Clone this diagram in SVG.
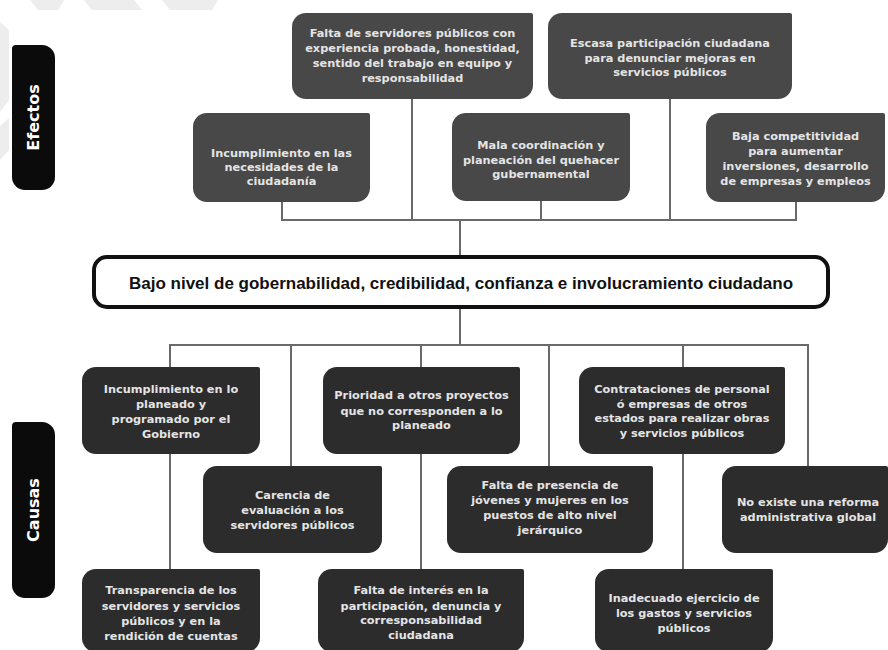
<svg xmlns="http://www.w3.org/2000/svg" width="888" height="650" viewBox="0 0 888 650">
<style>
.wm{fill:#ededed}
.pill{fill:#0b0b0b}
.pl{font-family:"DejaVu Sans","Liberation Sans",sans-serif;font-weight:bold;font-size:16px;fill:#ffffff;text-anchor:middle}
.eff{fill:#484848}
.cau{fill:#2c2c2c}
.t{font-family:"DejaVu Sans","Liberation Sans",sans-serif;font-weight:bold;font-size:11.3px;fill:#e4e4e4;text-anchor:middle}
.con{fill:none;stroke:#6a6a6a;stroke-width:2}
.main{fill:#ffffff;stroke:#111111;stroke-width:4}
.mt{font-family:"Liberation Sans",Arial,sans-serif;font-weight:bold;font-size:17px;fill:#111111;text-anchor:middle}
</style>
<g id="watermark">
<polygon class="wm" points="30,0 64,0 58,10 38,10"/>
<polygon class="wm" points="84,0 134,0 142,10 92,10"/>
<polygon class="wm" points="162,0 218,0 212,10 170,10"/>
<polygon class="wm" points="0,22 9,30 9,100 0,112"/>
<polygon class="wm" points="0,126 9,118 9,150 0,160"/>
</g>
<g id="connectors">
<path class="con" d="M282,202 V220 H796 V202"/>
<path class="con" d="M412,99 V220"/>
<path class="con" d="M541,201 V220"/>
<path class="con" d="M670,99 V220"/>
<path class="con" d="M460,220 V255"/>
<path class="con" d="M460,309 V345"/>
<path class="con" d="M170,367 V345 H808 V466"/>
<path class="con" d="M291,345 V466"/>
<path class="con" d="M421,345 V367"/>
<path class="con" d="M549,345 V466"/>
<path class="con" d="M683,345 V367"/>
<path class="con" d="M170,454 V569"/>
<path class="con" d="M421,454 V569"/>
<path class="con" d="M683,454 V569"/>
</g>
<g id="label-efectos">
<path class="pill" d="M16,45 H42 A13,13 0 0 1 55,58 V177 A13,13 0 0 1 42,190 H25 A13,13 0 0 1 12,177 V49 A4,4 0 0 1 16,45 Z"/>
<text class="pl" transform="translate(39,117.5) rotate(-90)">Efectos</text>
</g>
<g id="label-causas">
<path class="pill" d="M16,422 H42 A13,13 0 0 1 55,435 V585 A13,13 0 0 1 42,598 H25 A13,13 0 0 1 12,585 V426 A4,4 0 0 1 16,422 Z"/>
<text class="pl" transform="translate(39,510) rotate(-90)">Causas</text>
</g>
<g id="e-falta-servidores">
<path class="eff" d="M306,13 H531 A2,2 0 0 1 533,15 V85 A14,14 0 0 1 519,99 H306 A14,14 0 0 1 292,85 V27 A14,14 0 0 1 306,13 Z"/>
<text class="t" x="412.5"><tspan x="412.5" y="37">Falta de  servidores públicos con</tspan><tspan x="412.5" y="52">experiencia probada, honestidad,</tspan><tspan x="412.5" y="67">sentido del trabajo en equipo y</tspan><tspan x="412.5" y="82">responsabilidad</tspan></text>
</g>
<g id="e-escasa-participacion">
<path class="eff" d="M562,13 H790 A2,2 0 0 1 792,15 V85 A14,14 0 0 1 778,99 H562 A14,14 0 0 1 548,85 V27 A14,14 0 0 1 562,13 Z"/>
<text class="t"><tspan x="670" y="47">Escasa participación ciudadana</tspan><tspan x="670" y="61.5">para denunciar mejoras en</tspan><tspan x="670" y="76">servicios públicos</tspan></text>
</g>
<g id="e-incumplimiento-necesidades">
<path class="eff" d="M207,113 H368 A2,2 0 0 1 370,115 V188 A14,14 0 0 1 356,202 H207 A14,14 0 0 1 193,188 V127 A14,14 0 0 1 207,113 Z"/>
<text class="t"><tspan x="281.5" y="157">Incumplimiento en las</tspan><tspan x="281.5" y="171">necesidades de la</tspan><tspan x="281.5" y="185">ciudadanía</tspan></text>
</g>
<g id="e-mala-coordinacion">
<path class="eff" d="M466,113 H628 A2,2 0 0 1 630,115 V187 A14,14 0 0 1 616,201 H466 A14,14 0 0 1 452,187 V127 A14,14 0 0 1 466,113 Z"/>
<text class="t"><tspan x="541" y="149">Mala coordinación  y</tspan><tspan x="541" y="163.5">planeación del quehacer</tspan><tspan x="541" y="178">gubernamental</tspan></text>
</g>
<g id="e-baja-competitividad">
<path class="eff" d="M720,113 H883 A2,2 0 0 1 885,115 V188 A14,14 0 0 1 871,202 H720 A14,14 0 0 1 706,188 V127 A14,14 0 0 1 720,113 Z"/>
<text class="t"><tspan x="795.5" y="140">Baja competitividad</tspan><tspan x="795.5" y="155">para aumentar</tspan><tspan x="795.5" y="170">inversiones, desarrollo</tspan><tspan x="795.5" y="184.5">de empresas y empleos</tspan></text>
</g>
<g id="problema-central">
<rect class="main" x="94" y="257" width="734" height="50" rx="13"/>
<text class="mt" x="461" y="289">Bajo nivel de gobernabilidad, credibilidad, confianza e involucramiento ciudadano</text>
</g>
<g id="c-incumplimiento-planeado">
<path class="cau" d="M96,367 H258 A2,2 0 0 1 260,369 V440 A14,14 0 0 1 246,454 H96 A14,14 0 0 1 82,440 V381 A14,14 0 0 1 96,367 Z"/>
<text class="t"><tspan x="171" y="393">Incumplimiento en lo</tspan><tspan x="171" y="408">planeado y</tspan><tspan x="171" y="423">programado por el</tspan><tspan x="171" y="437.5">Gobierno</tspan></text>
</g>
<g id="c-prioridad-proyectos">
<path class="cau" d="M337,367 H518 A2,2 0 0 1 520,369 V440 A14,14 0 0 1 506,454 H337 A14,14 0 0 1 323,440 V381 A14,14 0 0 1 337,367 Z"/>
<text class="t"><tspan x="421.5" y="399">Prioridad a otros proyectos</tspan><tspan x="421.5" y="414.5">que no corresponden a lo</tspan><tspan x="421.5" y="429">planeado</tspan></text>
</g>
<g id="c-contrataciones">
<path class="cau" d="M593,367 H783 A2,2 0 0 1 785,369 V440 A14,14 0 0 1 771,454 H593 A14,14 0 0 1 579,440 V381 A14,14 0 0 1 593,367 Z"/>
<text class="t"><tspan x="682" y="393">Contrataciones de personal</tspan><tspan x="682" y="407.5">ó empresas de otros</tspan><tspan x="682" y="422">estados para realizar obras</tspan><tspan x="682" y="437">y servicios públicos</tspan></text>
</g>
<g id="c-carencia-evaluacion">
<path class="cau" d="M217,466 H380 A2,2 0 0 1 382,468 V539 A14,14 0 0 1 368,553 H217 A14,14 0 0 1 203,539 V480 A14,14 0 0 1 217,466 Z"/>
<text class="t"><tspan x="292.5" y="499">Carencia de</tspan><tspan x="292.5" y="514">evaluación a los</tspan><tspan x="292.5" y="529">servidores públicos</tspan></text>
</g>
<g id="c-falta-presencia">
<path class="cau" d="M461,466 H651 A2,2 0 0 1 653,468 V539 A14,14 0 0 1 639,553 H461 A14,14 0 0 1 447,539 V480 A14,14 0 0 1 461,466 Z"/>
<text class="t"><tspan x="550" y="489">Falta de presencia de</tspan><tspan x="550" y="504">jóvenes y mujeres en los</tspan><tspan x="550" y="519">puestos de alto nivel</tspan><tspan x="550" y="534">jerárquico</tspan></text>
</g>
<g id="c-no-existe-reforma">
<path class="cau" d="M736,466 H886 A2,2 0 0 1 888,468 V539 A14,14 0 0 1 874,553 H736 A14,14 0 0 1 722,539 V480 A14,14 0 0 1 736,466 Z"/>
<text class="t"><tspan x="808" y="506">No existe una reforma</tspan><tspan x="808" y="520.5">administrativa global</tspan></text>
</g>
<g id="c-transparencia">
<path class="cau" d="M96,569 H258 A2,2 0 0 1 260,571 V638 A14,14 0 0 1 246,652 H96 A14,14 0 0 1 82,638 V583 A14,14 0 0 1 96,569 Z"/>
<text class="t"><tspan x="171" y="594">Transparencia de los</tspan><tspan x="171" y="610">servidores y servicios</tspan><tspan x="171" y="625">públicos y en la</tspan><tspan x="171" y="640">rendición de cuentas</tspan></text>
</g>
<g id="c-falta-interes">
<path class="cau" d="M332,569 H522 A2,2 0 0 1 524,571 V638 A14,14 0 0 1 510,652 H332 A14,14 0 0 1 318,638 V583 A14,14 0 0 1 332,569 Z"/>
<text class="t"><tspan x="421" y="594">Falta de interés en la</tspan><tspan x="421" y="609.5">participación, denuncia y</tspan><tspan x="421" y="624">corresponsabilidad</tspan><tspan x="421" y="639">ciudadana</tspan></text>
</g>
<g id="c-inadecuado-ejercicio">
<path class="cau" d="M609,569 H771 A2,2 0 0 1 773,571 V638 A14,14 0 0 1 759,652 H609 A14,14 0 0 1 595,638 V583 A14,14 0 0 1 609,569 Z"/>
<text class="t"><tspan x="684" y="602">Inadecuado ejercicio de</tspan><tspan x="684" y="617">los gastos y servicios</tspan><tspan x="684" y="632">públicos</tspan></text>
</g>
</svg>
